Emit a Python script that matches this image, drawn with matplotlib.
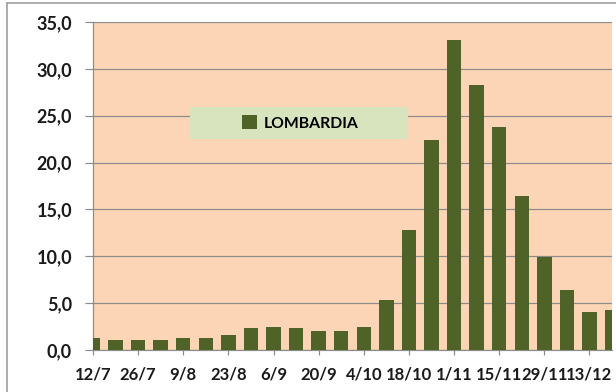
import matplotlib.pyplot as plt
from matplotlib.patches import Rectangle
from matplotlib.lines import Line2D
from matplotlib.ticker import FuncFormatter

# settimane (weekly), Lombardia
settimane = ["12/7", "19/7", "26/7", "2/8", "9/8", "16/8", "23/8", "30/8",
             "6/9", "13/9", "20/9", "27/9", "4/10", "11/10", "18/10", "25/10",
             "1/11", "8/11", "15/11", "22/11", "29/11", "6/12", "13/12", "20/12"]
valori = [1.3, 1.1, 1.1, 1.1, 1.3, 1.3, 1.6, 2.3,
          2.5, 2.3, 2.0, 2.0, 2.5, 5.3, 12.8, 22.4,
          33.1, 28.3, 23.8, 16.4, 9.9, 6.4, 4.1, 4.3]
serie = "LOMBARDIA"

plt.rcParams['font.family'] = ['Lato', 'DejaVu Sans']

W, H = 616, 392
PX = 72 / 100  # points per pixel at dpi 100
fig = plt.figure(figsize=(W / 100, H / 100), dpi=100)
fig.patch.set_facecolor("white")

ax = fig.add_axes([93 / W, 1 - 350 / H, 519 / W, 328 / H])
ax.set_facecolor("#FBD5B5")

x = list(range(len(valori)))
ax.bar(x, valori, width=0.64, color="#4F6228", zorder=3)

ax.set_xlim(0, len(valori) - 1)
ax.set_ylim(0, 35)
ax.set_yticks(range(0, 36, 5))
ax.yaxis.set_major_formatter(FuncFormatter(lambda v, p: f"{v:.1f}".replace(".", ",")))
ax.set_xticks(x[::2])
ax.set_xticklabels(settimane[::2])

ax.grid(axis="y", color="#8C8C8C", linewidth=1.2 * PX, zorder=1)
for s in ["top", "right"]:
    ax.spines[s].set_visible(False)
for s in ["left", "bottom"]:
    ax.spines[s].set_color("#8C8C8C")
    ax.spines[s].set_linewidth(1.2 * PX)

ax.tick_params(axis="y", length=8 * PX, width=1.2 * PX, color="#8C8C8C", pad=13 * PX,
               labelsize=13, labelcolor="#1a1a1a")
ax.tick_params(axis="x", length=5 * PX, width=1.2 * PX, color="#8C8C8C", pad=12 * PX,
               labelsize=12, labelcolor="#1a1a1a")
for lab in ax.get_xticklabels() + ax.get_yticklabels():
    lab.set_fontweight("bold")

# legend box
box = Rectangle((190 / W, 1 - 139 / H), 218 / W, 32 / H, transform=fig.transFigure,
                facecolor="#D7E4BD", edgecolor="none", zorder=4)
ax.add_artist(box)
box.set_clip_on(False)
handle = Rectangle((0, 0), 1, 1, facecolor="#4F6228")
leg = ax.legend([handle], [serie], loc="center", frameon=False,
                bbox_to_anchor=(300 / W, 1 - 123 / H), bbox_transform=fig.transFigure,
                handlelength=1.0, handleheight=1.0, handletextpad=0.4,
                prop={"weight": "bold", "size": 11.3})
leg.set_zorder(5)

# outer chart border
fig.add_artist(Line2D([6.5 / W, 6.5 / W], [0, 1 - 2.5 / H], color="#A6A6A6", lw=1.3))
fig.add_artist(Line2D([6.5 / W, 1], [1 - 2.5 / H, 1 - 2.5 / H], color="#A6A6A6", lw=1.3))

fig.savefig("out.png", dpi=100)
